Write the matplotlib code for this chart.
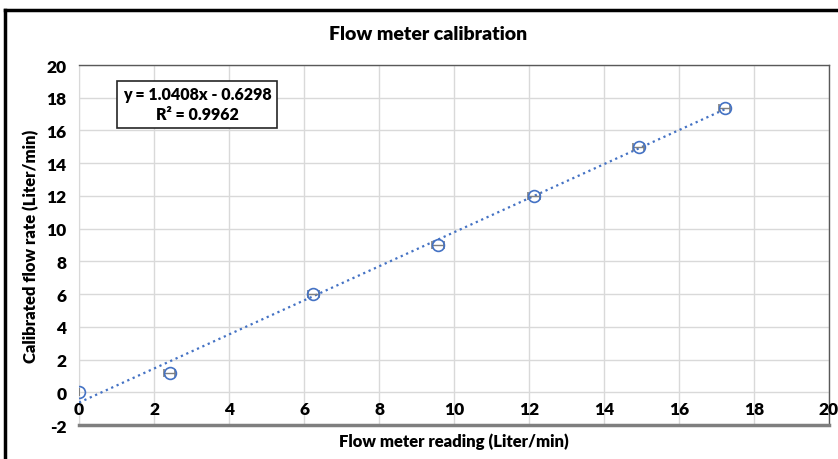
import matplotlib.pyplot as plt
import numpy as np
from matplotlib.lines import Line2D

# measured points (Liter/min)
reading = [0.0, 2.42, 6.25, 9.57, 12.13, 14.92, 17.22]
calibrated = [0.0, 1.2, 5.98, 9.0, 12.0, 15.0, 17.4]
reading_err = [0.0, 0.15, 0.15, 0.15, 0.15, 0.15, 0.15]

slope = 1.0408
intercept = -0.6298
r2 = 0.9962

x_ticks = list(range(0, 21, 2))
y_ticks = list(range(-2, 21, 2))

plt.rcParams['font.family'] = ['Lato', 'DejaVu Sans']
plt.rcParams['font.weight'] = 'bold'
plt.rcParams['axes.unicode_minus'] = False

fig = plt.figure(figsize=(8.38, 4.6), dpi=100)
ax = fig.add_axes([0.0943, 0.0739, 0.8950, 0.7826])

blue = '#4472C4'

# trendline
xt = np.linspace(0, max(reading), 50)
ax.plot(xt, slope * xt + intercept, linestyle=':', color=blue, lw=1.6, zorder=3)

ax.errorbar(reading, calibrated, xerr=reading_err, fmt='o', ms=8.5,
            mfc='none', mec=blue, mew=1.2, ecolor='#7f7f7f', elinewidth=1,
            capsize=3, capthick=1, zorder=4)

ax.set_xlim(0, 20)
ax.set_ylim(-2, 20)
ax.set_xticks(x_ticks)
ax.set_yticks(y_ticks)
ax.grid(True, color='#d9d9d9', lw=1)
ax.set_axisbelow(True)
ax.tick_params(length=0)
ax.tick_params(axis='y', pad=9, labelsize=12.5)
ax.set_xticklabels([])
for t in x_ticks:
    ax.text(t, -1, str(t), ha='center', va='center', fontsize=12.5, fontweight='heavy')
for lab in ax.get_yticklabels():
    lab.set_fontweight('heavy')

for s in ['top', 'right']:
    ax.spines[s].set_color('#595959')
    ax.spines[s].set_linewidth(1)
ax.spines['left'].set_color('#d9d9d9')
ax.spines['bottom'].set_color('#7f7f7f')
ax.spines['bottom'].set_linewidth(2.5)

ax.set_xlabel('Flow meter reading (Liter/min)', fontsize=12, fontweight='heavy', labelpad=2)
ax.set_ylabel('Calibrated flow rate (Liter/min)', fontsize=12, fontweight='heavy', labelpad=5)
fig.text(0.511, 0.924, 'Flow meter calibration', ha='center', va='center', fontsize=14, fontweight='heavy')

ax.text(3.15, 17.6, 'y = %.4fx - %.4f\nR² = %.4f' % (slope, -intercept, r2),
        ha='center', va='center', fontsize=11.5, fontweight='heavy', linespacing=1.3,
        bbox=dict(boxstyle='square,pad=0.35', fc='white', ec='#262626', lw=1.2))

# outer chart frame (left and top edges visible)
fig.add_artist(Line2D([0.006, 0.006], [0.0, 0.976], color='black', lw=2.5, transform=fig.transFigure))
fig.add_artist(Line2D([0.006, 1.0], [0.976, 0.976], color='black', lw=2.5, transform=fig.transFigure))

fig.savefig('out.png', dpi=100)
